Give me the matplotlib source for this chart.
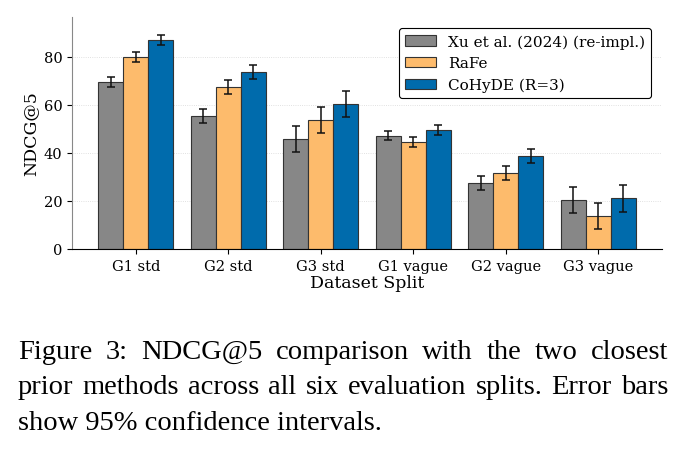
import matplotlib.pyplot as plt
import numpy as np

splits = ["G1 std", "G2 std", "G3 std", "G1 vague", "G2 vague", "G3 vague"]
methods = ["Xu et al. (2024) (re-impl.)", "RaFe", "CoHyDE (R=3)"]
xu_vals = [69.5, 55.3, 45.8, 47.2, 27.4, 20.3]
rafe_vals = [80.0, 67.4, 53.7, 44.4, 31.5, 13.6]
cohyde_vals = [87.0, 73.6, 60.3, 49.4, 38.7, 21.0]
xu_err = [2.0, 3.0, 5.5, 2.0, 3.0, 5.4]
rafe_err = [2.0, 3.0, 5.5, 2.0, 3.0, 5.4]
cohyde_err = [2.0, 3.0, 5.5, 2.0, 3.0, 5.5]

caption_lines = ["Figure 3: NDCG@5 comparison with the two closest",
                 "prior methods across all six evaluation splits. Error bars",
                 "show 95% confidence intervals."]

colors = ["#878787", "#FDBB6C", "#006BAC"]

plt.rcParams["font.family"] = ["DejaVu Serif"]

fig = plt.figure(figsize=(6.86, 4.52), dpi=100)
ax = fig.add_axes([0.105, 0.447, 0.86, 0.513])

x = np.arange(len(splits))
w = 0.27
series = [(xu_vals, xu_err), (rafe_vals, rafe_err), (cohyde_vals, cohyde_err)]
for k, ((vals, errs), name, c) in enumerate(zip(series, methods, colors)):
    ax.bar(x + (k - 1) * w, vals, w, yerr=errs, color=c, edgecolor="#333333",
           linewidth=0.8, label=name, capsize=3,
           error_kw={"elinewidth": 1.1, "capthick": 1.1, "ecolor": "#111111"})

ax.set_xticks(x)
ax.set_xticklabels(splits, fontsize=10.5)
ax.set_ylim(0, 96.5)
ax.set_xlim(-0.69, 5.69)
ax.set_yticks([0, 20, 40, 60, 80])
ax.tick_params(axis="y", labelsize=10.5)
ax.set_xlabel("Dataset Split", fontsize=12.5, labelpad=1)
ax.set_ylabel("NDCG@5", fontsize=12.5, labelpad=3)
ax.grid(True, axis="y", linestyle=":", linewidth=0.6, alpha=0.5)
ax.set_axisbelow(True)
ax.spines["top"].set_visible(False)
ax.spines["right"].set_visible(False)
ax.spines["left"].set_color("#888888")

leg = ax.legend(loc="upper right", fontsize=11, fancybox=True, framealpha=1,
                edgecolor="black", bbox_to_anchor=(0.995, 0.985))
leg.get_frame().set_linewidth(0.8)

# justified caption below the chart
renderer = fig.canvas.get_renderer()
fig_w = fig.get_figwidth() * fig.dpi
left, right = 0.026, 0.974
baselines = [0.2058, 0.1283, 0.0487]
cap_kw = dict(fontsize=20.5, family="Liberation Serif", va="baseline", ha="left")
for i, (line, yb) in enumerate(zip(caption_lines, baselines)):
    if i == len(caption_lines) - 1:
        fig.text(left, yb, line, **cap_kw)
        continue
    words = line.split()
    texts = [fig.text(left, yb, wd, **cap_kw) for wd in words]
    widths = [t.get_window_extent(renderer).width / fig_w for t in texts]
    gap = (right - left - sum(widths)) / (len(words) - 1)
    xpos = left
    for t, wdt in zip(texts, widths):
        t.set_x(xpos)
        xpos += wdt + gap

fig.savefig("out.png", dpi=100)
